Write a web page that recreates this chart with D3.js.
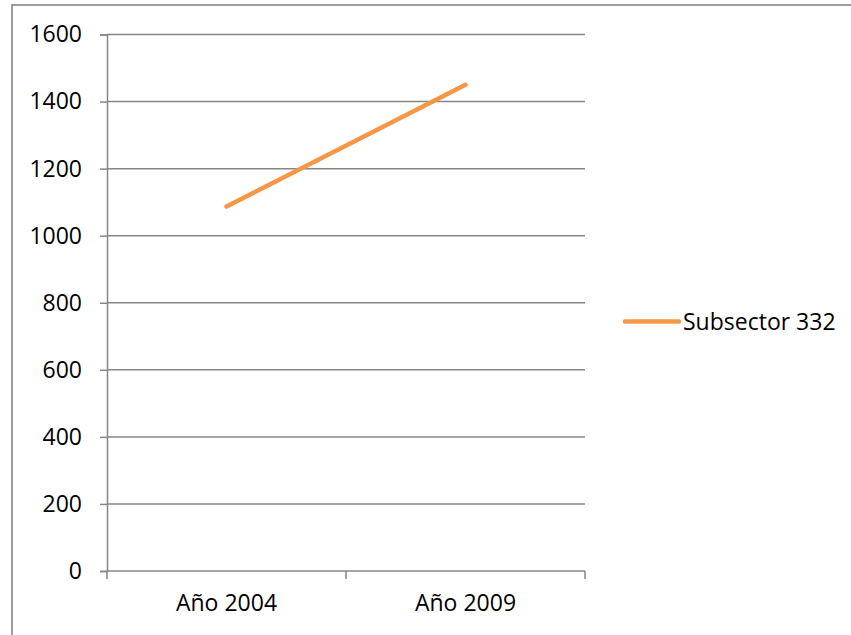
<!DOCTYPE html>
<html>
<head>
<meta charset="utf-8">
<script src="https://cdn.jsdelivr.net/npm/d3@7"></script>
<style>
  html, body { margin: 0; padding: 0; background: #fff; }
  svg { display: block; }
  text { font-family: "Open Sans", Lato, sans-serif; fill: #000; }
</style>
</head>
<body>
<svg id="chart" width="851" height="635"></svg>
<script>
// Subsector 332 totals per year
const categories = ["Año 2004", "Año 2009"];
const seriesName = "Subsector 332";
const seriesValues = [1087, 1450];
const yTicks = [0, 200, 400, 600, 800, 1000, 1200, 1400, 1600];

const svg = d3.select("#chart");
const W = 851, H = 635;
const plot = { left: 107, right: 585, top: 34.5, bottom: 571 };
const gridColor = "#868686";
const lineColor = "#F79646";
const fontSize = 23;
const fontFamily = "'Open Sans', Lato, sans-serif";

// outer chart frame
svg.append("rect")
  .attr("x", 12).attr("y", 5)
  .attr("width", W + 10).attr("height", H + 10)
  .attr("fill", "none").attr("stroke", gridColor).attr("stroke-width", 1.6);

const x = d3.scaleBand().domain(categories).range([plot.left, plot.right]);
const y = d3.scaleLinear().domain([0, 1600]).range([plot.bottom, plot.top]);

// horizontal gridlines
svg.append("g").selectAll("line").data(yTicks.filter(d => d > 0)).join("line")
  .attr("x1", plot.left).attr("x2", plot.right)
  .attr("y1", d => y(d)).attr("y2", d => y(d))
  .attr("stroke", gridColor).attr("stroke-width", 1.5);

// y axis
const yAxis = svg.append("g")
  .attr("transform", `translate(${plot.left},0)`)
  .call(d3.axisLeft(y).tickValues(yTicks).tickSize(7).tickPadding(18).tickFormat(d3.format("d")));
yAxis.select(".domain").attr("stroke", gridColor).attr("stroke-width", 1.5);
yAxis.selectAll(".tick line").attr("stroke", gridColor).attr("stroke-width", 1.5);
yAxis.selectAll("text").attr("font-size", fontSize).attr("font-family", fontFamily).attr("fill", "#000");

// x axis with ticks at category boundaries
const xAxis = svg.append("g")
  .attr("transform", `translate(0,${plot.bottom})`)
  .call(d3.axisBottom(x).tickSize(0).tickPadding(24));
xAxis.select(".domain").remove();
xAxis.selectAll("text").attr("font-size", fontSize).attr("font-family", fontFamily).attr("fill", "#000");
svg.append("line")
  .attr("x1", plot.left).attr("x2", plot.right)
  .attr("y1", plot.bottom).attr("y2", plot.bottom)
  .attr("stroke", gridColor).attr("stroke-width", 1.5);
const bounds = [plot.left, ...categories.map(c => x(c) + x.bandwidth())];
svg.append("g").selectAll("line").data(bounds).join("line")
  .attr("x1", d => d).attr("x2", d => d)
  .attr("y1", plot.bottom).attr("y2", plot.bottom + 8)
  .attr("stroke", gridColor).attr("stroke-width", 1.5);

// series line
const line = d3.line()
  .x((d, i) => x(categories[i]) + x.bandwidth() / 2)
  .y(d => y(d));
svg.append("path")
  .datum(seriesValues)
  .attr("d", line)
  .attr("fill", "none")
  .attr("stroke", lineColor)
  .attr("stroke-width", 4.5)
  .attr("stroke-linecap", "round");

// legend
const lg = svg.append("g").attr("transform", "translate(625,321.5)");
lg.append("line")
  .attr("x1", 0).attr("x2", 54).attr("y1", 0).attr("y2", 0)
  .attr("stroke", lineColor).attr("stroke-width", 4.5).attr("stroke-linecap", "round");
lg.append("text")
  .attr("x", 58).attr("y", 0).attr("dy", "0.35em")
  .attr("font-size", fontSize)
  .text(seriesName);
</script>
</body>
</html>
